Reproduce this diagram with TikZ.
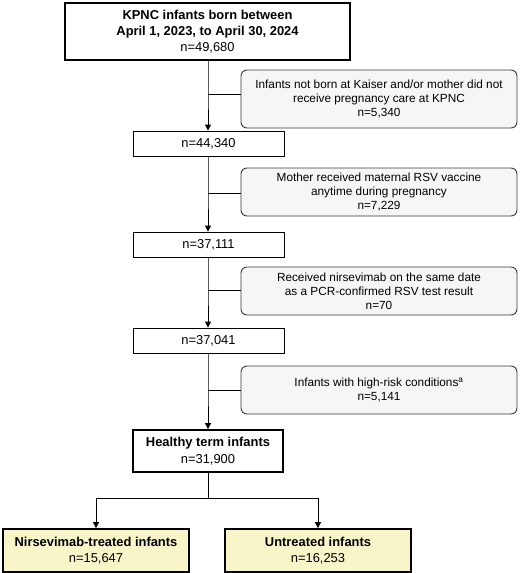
\documentclass[tikz,border=0pt]{standalone}
\usepackage{fontspec}
\setmainfont{Liberation Sans}
\usetikzlibrary{arrows.meta}
\definecolor{grayfill}{HTML}{F5F6F5}
\definecolor{yellowfill}{HTML}{F8F5C9}
\definecolor{edgegray}{HTML}{3A3A3A}
\tikzset{
  mainbox/.style={draw=black, line width=0.9pt, fill=white, align=center, inner sep=0pt, font=\fontsize{12.9}{16.3}\selectfont},
  thickbox/.style={mainbox, line width=1.8pt},
  yellowbox/.style={thickbox, fill=yellowfill},
  exclbox/.style={draw=edgegray, line width=0.9pt, fill=grayfill, rounded corners=6pt, align=center, inner sep=0pt, font=\fontsize{11.8}{14}\selectfont},
  flow/.style={line width=0.9pt, -{Triangle[length=6pt,width=6pt]}},
  link/.style={line width=0.9pt}
}
\begin{document}
\begin{tikzpicture}[x=1pt,y=-1pt]
\useasboundingbox (0,0) rectangle (520,573);
% main boxes
\node[thickbox, minimum width=285pt, minimum height=57pt] (top) at (207.5,31.5) {\textbf{KPNC infants born between}\\\textbf{April 1, 2023, to April 30, 2024}\\n=49,680};
\node[mainbox, minimum width=151pt, minimum height=25pt] (b1) at (208.5,143.5) {n=44,340};
\node[mainbox, minimum width=151pt, minimum height=25pt] (b2) at (208.5,244.5) {n=37,111};
\node[mainbox, minimum width=151pt, minimum height=25pt] (b3) at (208.5,340.5) {n=37,041};
\node[thickbox, minimum width=150pt, minimum height=42pt] (healthy) at (208,451) {\textbf{Healthy term infants}\\n=31,900};
\node[yellowbox, minimum width=186pt, minimum height=43pt] (treated) at (96,550.5) {\textbf{Nirsevimab-treated infants}\\n=15,647};
\node[yellowbox, minimum width=186pt, minimum height=43pt] (untreated) at (318,550.5) {\textbf{Untreated infants}\\n=16,253};
% exclusion boxes
\node[exclbox, minimum width=276pt, minimum height=58pt] (e1) at (379,99) {Infants not born at Kaiser and/or mother did not\\receive pregnancy care at KPNC\\n=5,340};
\node[exclbox, minimum width=276pt, minimum height=48pt] (e2) at (379,192) {Mother received maternal RSV vaccine\\anytime during pregnancy\\n=7,229};
\node[exclbox, minimum width=276pt, minimum height=48pt] (e3) at (379,291) {Received nirsevimab on the same date\\as a PCR-confirmed RSV test result\\n=70};
\node[exclbox, minimum width=276pt, minimum height=48pt] (e4) at (379,390) {Infants with high-risk conditions\textsuperscript{a}\\n=5,141};
% vertical flow
\coordinate (c1) at (208,94);
\coordinate (c2) at (208,193);
\coordinate (c3) at (208,290);
\coordinate (c4) at (208,390);
\draw[flow] (top.south -| c1) -- (c1) -- (b1.north -| c1);
\draw[flow] (b1.south -| c2) -- (c2) -- (b2.north -| c2);
\draw[flow] (b2.south -| c3) -- (c3) -- (b3.north -| c3);
\draw[flow] (b3.south -| c4) -- (c4) -- (healthy.north -| c4);
\draw[link] (c1) -- (e1.west |- c1);
\draw[link] (c2) -- (e2.west |- c2);
\draw[link] (c3) -- (e3.west |- c3);
\draw[link] (c4) -- (e4.west |- c4);
% split
\coordinate (s) at (208,498);
\coordinate (sl) at (96,498);
\coordinate (sr) at (318,498);
\draw[link] (healthy.south -| s) -- (s);
\draw[flow] (s) -- (sl) -- (treated.north);
\draw[flow] (s) -- (sr) -- (untreated.north);
\end{tikzpicture}
\end{document}
